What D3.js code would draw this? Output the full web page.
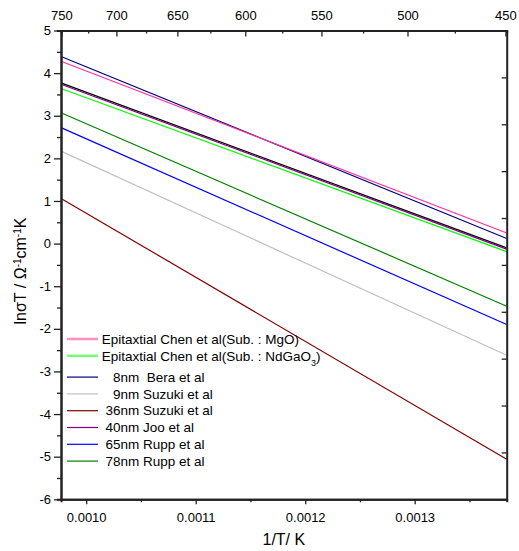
<!DOCTYPE html>
<html>
<head>
<meta charset="utf-8">
<script src="https://cdn.jsdelivr.net/npm/d3@7"></script>
<style>
  body { margin: 0; background: #fff; }
  svg { font-family: Arial, "Liberation Sans", sans-serif; }
  .axis path, .axis line { stroke: #222; }
  .axis text { font-size: 13px; fill: #000; }
</style>
</head>
<body>
<svg id="chart" width="519" height="551"></svg>
<script>
// 1/T (K^-1) at the left and right edge of the plot, each fit is a straight line
const xEnds = [0.000977, 0.001384];

const seriesNames = [
  'Epitaxtial Chen et al(Sub. : MgO)',
  'Epitaxtial Chen et al(Sub. : NdGaO_3)',
  '   8nm  Bera et al',
  '   9nm Suzuki et al',
  ' 36nm Suzuki et al',
  ' 40nm Joo et al',
  ' 65nm Rupp et al',
  ' 78nm Rupp et al',
  ''  // unlabeled black line under the purple one
];
const seriesColors = ['#ff3399', '#00ff00', '#000080', '#c0c0c0', '#800000', '#800080', '#0000ff', '#008000', '#000000'];
const startValues = [4.28, 3.64, 4.39, 2.17, 1.06, 3.74, 2.72, 3.07, 3.77];
const endValues   = [0.25, -0.19, 0.12, -2.62, -5.06, -0.13, -1.90, -1.47, -0.10];
const drawOrder = [8, 5, 4, 3, 6, 7, 1, 2, 0];

const bottomTicks = [0.0010, 0.0011, 0.0012, 0.0013];
const bottomMinor = [0.00105, 0.00115, 0.00125, 0.00135];
const topTicksC = [750, 700, 650, 600, 550, 500, 450];
const topMinorC = [725, 675, 625, 575, 525, 475];
const yTicks = [5, 4, 3, 2, 1, 0, -1, -2, -3, -4, -5, -6];
const yMinor = [4.5, 3.5, 2.5, 1.5, 0.5, -0.5, -1.5, -2.5, -3.5, -4.5, -5.5];

const svg = d3.select('#chart');
const plotLeft = 61, plotRight = 506.7, plotTop = 30.5, plotBottom = 499.3;

const x = d3.scaleLinear().domain(xEnds).range([plotLeft, plotRight]);
const y = d3.scaleLinear().domain([-6, 5]).range([plotBottom, plotTop]);
const yRight = d3.scaleLinear().domain([0, 10]).range([plotBottom, plotTop]);

// lines
const line = d3.line().x(d => x(d[0])).y(d => y(d[1]));
const plot = svg.append('g');
drawOrder.forEach(i => {
  plot.append('path')
    .datum([[xEnds[0], startValues[i]], [xEnds[1], endValues[i]]])
    .attr('d', line)
    .attr('fill', 'none')
    .attr('stroke', seriesColors[i])
    .attr('stroke-width', 1.2);
});

// axes
const toInv = c => 1 / (c + 273.15);

function styleAxis(g) {
  g.attr('class', 'axis');
  g.select('.domain').attr('stroke-width', 2);
  g.selectAll('.tick line').attr('stroke-width', 1.3);
}

// bottom
svg.append('g').attr('transform', `translate(0,${plotBottom})`)
  .call(d3.axisBottom(x).tickValues(bottomMinor).tickSize(3).tickFormat(''))
  .call(styleAxis);
svg.append('g').attr('transform', `translate(0,${plotBottom})`)
  .call(d3.axisBottom(x).tickValues(bottomTicks).tickSize(5).tickSizeOuter(0)
    .tickPadding(8).tickFormat(d => d.toFixed(4)))
  .call(styleAxis);

// top (temperature in °C)
svg.append('g').attr('transform', `translate(0,${plotTop})`)
  .call(d3.axisTop(x).tickValues(topMinorC.map(toInv)).tickSize(-3).tickFormat(''))
  .call(styleAxis);
svg.append('g').attr('transform', `translate(0,${plotTop})`)
  .call(d3.axisTop(x).tickValues(topTicksC.map(toInv)).tickSize(-6).tickSizeOuter(0)
    .tickPadding(11).tickFormat(v => Math.round(1 / v - 273.15)))
  .call(styleAxis);

// left
svg.append('g').attr('transform', `translate(${plotLeft},0)`)
  .call(d3.axisLeft(y).tickValues(yMinor).tickSize(4).tickFormat(''))
  .call(styleAxis);
svg.append('g').attr('transform', `translate(${plotLeft},0)`)
  .call(d3.axisLeft(y).tickValues(yTicks).tickSize(7).tickSizeOuter(0).tickPadding(3)
    .tickFormat(d => String(d)))
  .call(styleAxis);

// right (no labels, inward ticks)
svg.append('g').attr('transform', `translate(${plotRight},0)`)
  .call(d3.axisRight(yRight).ticks(10).tickSize(-5).tickSizeOuter(0).tickFormat(''))
  .call(styleAxis);

// axis titles
svg.append('text')
  .attr('x', (plotLeft + plotRight) / 2)
  .attr('y', 545)
  .attr('text-anchor', 'middle')
  .style('font-size', '16px')
  .text('1/T/ K');

const yLabel = svg.append('text')
  .attr('transform', 'translate(26,271) rotate(-90)')
  .attr('text-anchor', 'middle')
  .style('font-size', '16px');
yLabel.append('tspan').text('lnσT / Ω');
yLabel.append('tspan').attr('baseline-shift', 'super').style('font-size', '10px').text('-1');
yLabel.append('tspan').text('cm');
yLabel.append('tspan').attr('baseline-shift', 'super').style('font-size', '10px').text('-1');
yLabel.append('tspan').text('K');

// legend
const legend = svg.append('g');
seriesNames.forEach((name, i) => {
  if (!name) return;
  const ly = 339 + i * 16.8 + (i >= 2 ? 4.5 : 0);
  legend.append('line')
    .attr('x1', 67).attr('x2', 98)
    .attr('y1', ly).attr('y2', ly)
    .attr('stroke', seriesColors[i])
    .attr('stroke-width', i < 2 ? 2.5 : 1.2)
    .attr('stroke-opacity', i < 2 ? 0.55 : 1);
  const t = legend.append('text')
    .attr('x', 101.7).attr('y', ly).attr('dy', '0.35em')
    .style('font-size', '13.5px')
    .style('white-space', 'pre');
  const parts = name.split(/_(\d)/);
  parts.forEach((p, k) => {
    if (k % 2 === 1) {
      t.append('tspan').attr('baseline-shift', 'sub').style('font-size', '9px').text(p);
    } else if (p) {
      t.append('tspan').attr('baseline-shift', '0').text(p);
    }
  });
});
</script>
</body>
</html>
